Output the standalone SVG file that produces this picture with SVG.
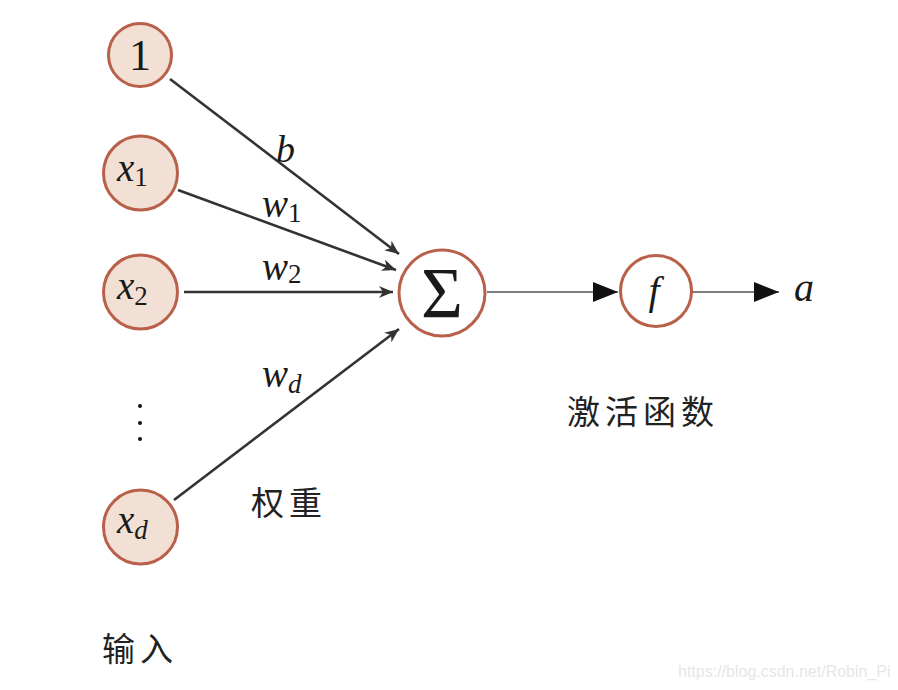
<svg xmlns="http://www.w3.org/2000/svg" width="898" height="690" viewBox="0 0 898 690">
<style>
.in{fill:#f2e0d5;stroke:#b8604a;stroke-width:3}
.op{fill:#fff;stroke:#b8604a;stroke-width:3}
.m{font-family:"Liberation Serif",serif;font-style:italic;fill:#1a1a1a}
.n{font-family:"Liberation Serif",serif;fill:#1a1a1a}
.cj{font-family:"Noto Sans CJK SC",sans-serif;fill:#222;font-size:33px;letter-spacing:5px}
.w{stroke:#333;stroke-width:2.6;fill:none}
.t{stroke:#555;stroke-width:1.5;fill:none}
</style>
<defs>
<marker id="s" markerWidth="16" markerHeight="12" refX="14" refY="6" orient="auto" markerUnits="userSpaceOnUse">
<path d="M0,0 L14,6 L0,12 L4,6 Z" fill="#333"/>
</marker>
<marker id="L" markerWidth="26" markerHeight="22" refX="25" refY="11" orient="auto" markerUnits="userSpaceOnUse">
<path d="M0,1 L25,11 L0,21 Z" fill="#111"/>
</marker>
</defs>
<rect width="898" height="690" fill="#fff"/>
<g id="connectors">
<line class="w" x1="170" y1="79" x2="399" y2="254" marker-end="url(#s)"/>
<line class="w" x1="178" y1="190" x2="396" y2="270" marker-end="url(#s)"/>
<line class="w" x1="184" y1="292" x2="393" y2="292" marker-end="url(#s)"/>
<line class="w" x1="174" y1="500" x2="399" y2="329" marker-end="url(#s)"/>
<line class="t" x1="487" y1="292" x2="618" y2="292" marker-end="url(#L)"/>
<line class="t" x1="692" y1="292" x2="779" y2="292" marker-end="url(#L)"/>
<text class="m" x="276" y="162" font-size="38">b</text>
<text class="m" x="262" y="217" font-size="39">w<tspan font-style="normal" font-size="27" dy="5">1</tspan></text>
<text class="m" x="262" y="280" font-size="39">w<tspan font-style="normal" font-size="27" dy="3">2</tspan></text>
<text class="m" x="262" y="387" font-size="39">w<tspan font-size="27" dy="6">d</tspan></text>
</g>
<g id="n1"><circle class="in" cx="140" cy="55" r="31.5"/><text class="n" x="140" y="70" font-size="44" text-anchor="middle">1</text></g>
<g id="x1"><circle class="in" cx="140.5" cy="173" r="37"/><text class="m" x="117" y="181" font-size="39">x<tspan font-style="normal" font-size="27" dy="5">1</tspan></text></g>
<g id="x2"><circle class="in" cx="140.5" cy="292" r="37"/><text class="m" x="117" y="299" font-size="39">x<tspan font-style="normal" font-size="27" dy="6">2</tspan></text></g>
<g id="dots" fill="#111"><circle cx="140" cy="406" r="2"/><circle cx="140" cy="423" r="2"/><circle cx="140" cy="439" r="2"/></g>
<g id="xd"><circle class="in" cx="140.5" cy="527" r="37"/><text class="m" x="117" y="533" font-size="39">x<tspan font-size="27" dy="6">d</tspan></text></g>
<g id="sum"><circle class="op" cx="442" cy="293" r="43"/><text class="n" x="442" y="317" font-size="72" text-anchor="middle">Σ</text></g>
<g id="f"><circle class="op" cx="656" cy="291" r="35.5"/><text class="m" x="654" y="304" font-size="40" text-anchor="middle">f</text></g>
<g id="a"><text class="m" x="794" y="301" font-size="40">a</text></g>
<text class="cj" x="251" y="515">权重</text>
<text class="cj" x="102" y="661">输入</text>
<text class="cj" x="567" y="424">激活函数</text>
<text x="678" y="677" font-family="Liberation Sans,sans-serif" font-size="16" fill="#e6e6e6">https://blog.csdn.net/Robin_Pi</text>
</svg>
